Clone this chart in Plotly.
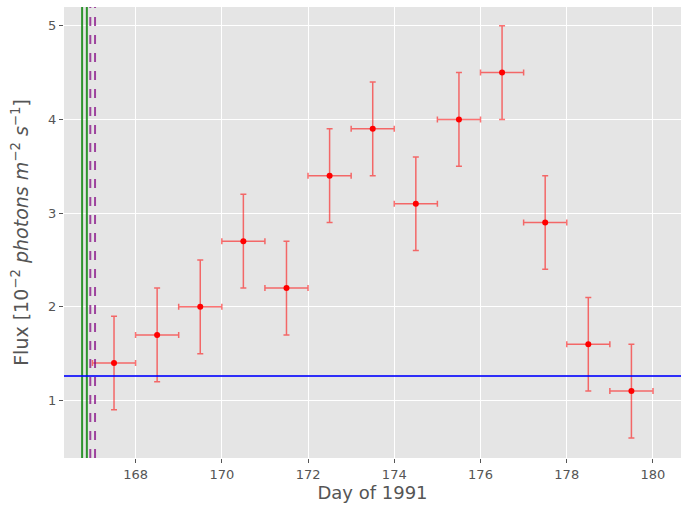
import plotly.graph_objects as go

days = [167.5, 168.5, 169.5, 170.5, 171.5, 172.5, 173.5, 174.5, 175.5, 176.5, 177.5, 178.5, 179.5]
flux = [1.4, 1.7, 2.0, 2.7, 2.2, 3.4, 3.9, 3.1, 4.0, 4.5, 2.9, 1.6, 1.1]
x_err = [0.5] * len(days)
y_err = [0.5] * len(days)
green_days = [166.76, 166.87]
purple_days = [166.95, 167.06]
baseline_flux = 1.26
x_ticks = [168, 170, 172, 174, 176, 178, 180]
y_ticks = [1, 2, 3, 4, 5]

fig = go.Figure()
fig.add_trace(go.Scatter(
    x=days, y=flux, mode="markers",
    marker=dict(color="red", size=6),
    error_x=dict(type="data", array=x_err, color="rgba(255,0,0,0.55)", thickness=1.5, width=3),
    error_y=dict(type="data", array=y_err, color="rgba(255,0,0,0.55)", thickness=1.5, width=3),
    showlegend=False,
))

for d in green_days:
    fig.add_vline(x=d, line=dict(color="green", width=2), opacity=0.8)
for d in purple_days:
    fig.add_vline(x=d, line=dict(color="purple", width=2, dash="dash"), opacity=0.7)
fig.add_hline(y=baseline_flux, line=dict(color="blue", width=2), opacity=0.8)

axis_common = dict(
    showgrid=True, gridcolor="white", gridwidth=1, zeroline=False,
    ticks="outside", ticklen=4, tickcolor="#555555",
    tickfont=dict(family="DejaVu Sans", size=13, color="#555555"),
    showline=False, automargin=False,
)
fig.update_xaxes(range=[166.34, 180.65], tickvals=x_ticks,
                 title=dict(text="Day of 1991", font=dict(family="DejaVu Sans", size=18, color="#555555"), standoff=4),
                 **axis_common)
fig.update_yaxes(range=[0.386, 5.2], tickvals=y_ticks,
                 title=dict(text="Flux [10<sup>−2</sup> <i>photons m</i><sup>−2</sup> <i>s</i><sup>−1</sup>]",
                            font=dict(family="DejaVu Sans", size=19, color="#555555"), standoff=14),
                 **axis_common)

fig.update_layout(
    width=682, height=510,
    margin=dict(l=64, r=1, t=7, b=52),
    plot_bgcolor="#E5E5E5", paper_bgcolor="white",
)

fig.write_html("out.html", config={"responsive": False, "displayModeBar": False},
               post_script="document.body.style.margin='0';document.body.style.overflow='hidden';")
